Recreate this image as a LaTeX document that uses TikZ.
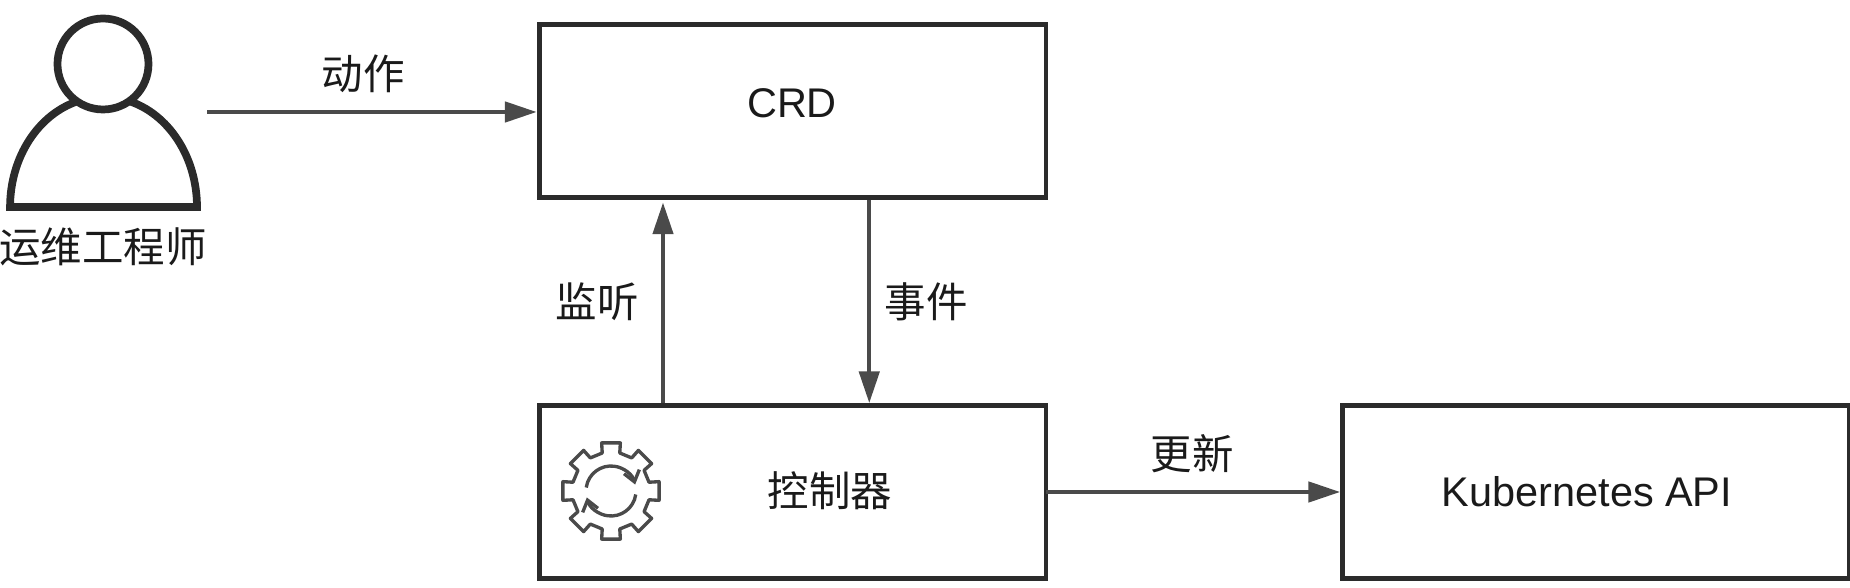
\documentclass[tikz,border=0pt]{standalone}
\usepackage{fontspec}
\setmainfont{Liberation Sans}
\newfontfamily\cjk{Noto Sans CJK SC}
\usetikzlibrary{arrows.meta, calc}
\definecolor{boxline}{HTML}{2B2B2B}
\definecolor{arrline}{HTML}{4A4A4A}
\definecolor{txtcol}{HTML}{1A1A1A}
\tikzset{
	box/.style={draw=boxline, line width=2.8pt, minimum width=10.14cm, minimum height=3.46cm, inner sep=0pt},
	lab/.style={text=txtcol, font=\fontsize{23.6}{26}\selectfont, inner sep=0pt},
	clab/.style={text=txtcol, font=\cjk\fontsize{23.6}{26}\selectfont, inner sep=0pt},
	arr/.style={draw=arrline, line width=2.2pt, -{Triangle[length=18pt, width=11.5pt]}},
	icon/.style={draw=boxline, line width=4.4pt},
	gearline/.style={draw=arrline, line width=1.9pt, line join=round},
}
\newcommand{\gearteeth}{0,45,...,315}

\begin{document}
\begin{tikzpicture}[x=0.02cm, y=0.02cm]
	\useasboundingbox (0,0) rectangle (1850,588);

	\node[box] (crd) at (792.5,477) {};
	\node[box] (ctrl) at (792.5,96) {};
	\node[box] (api) at (1596,96) {};

	\node[lab] (crdlab) at (792,485) {CRD};
	\node[clab] (ctrllab) at (830,97) {控制器};
	\node[lab] (apilab) at (1587,96) {Kubernetes API};

	% person
	\draw[icon] (103,524) circle (45.5);
	\draw[icon] (79,487.2) arc[start angle=105, end angle=180, x radius=93, y radius=110] -- (197,381)
		arc[start angle=0, end angle=75, x radius=93, y radius=110];
	\node[clab] (op) at (103,341) {运维工程师};

	% gear
	\begin{scope}[shift={(611,97)}]
		\draw[gearline] (-13:39) \foreach \a in \gearteeth { -- (\a-13:39) -- (\a-11:49) -- (\a+11:49) -- (\a+13:39)} -- cycle;
		\draw[gearline, -{Straight Barb[length=6pt, width=9pt]}] (172:25) arc[start angle=172, end angle=15, radius=25];
		\draw[gearline, -{Straight Barb[length=6pt, width=9pt]}] (-8:25) arc[start angle=-8, end angle=-165, radius=25];
	\end{scope}

	\coordinate (act) at (207,476);
	\draw[arr] (act) -- (crd.west |- act);
	\node[clab] (actlab) at (363,514) {动作};

	\draw[arr, shorten >=1.5pt] ($(ctrl.north west)!0.247!(ctrl.north east)$) -- ($(crd.south west)!0.247!(crd.south east)$);
	\node[clab] (watch) at (597,286) {监听};

	\draw[arr] ($(crd.south west)!0.65!(crd.south east)$) -- ($(ctrl.north west)!0.65!(ctrl.north east)$);
	\node[clab] (event) at (926,286) {事件};

	\draw[arr] (ctrl) ++(253.5,0) -- (api.west);
	\node[clab] (upd) at (1192,134) {更新};
\end{tikzpicture}
\end{document}
